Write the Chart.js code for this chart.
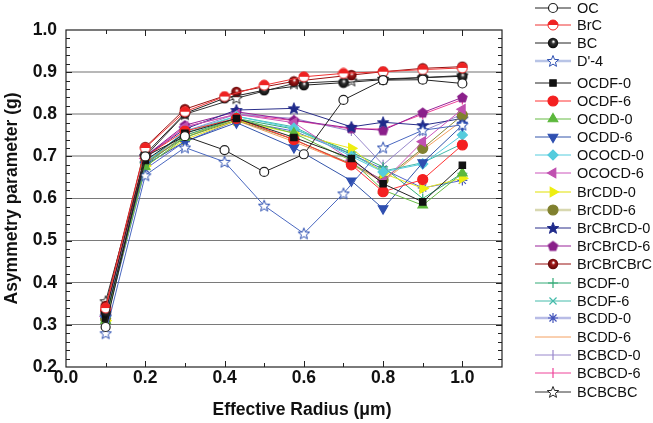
<!DOCTYPE html>
<html>
<head>
<meta charset="utf-8">
<script src="https://cdn.jsdelivr.net/npm/chart.js@4.4.1/dist/chart.umd.min.js"></script>
<style>
html, body { margin: 0; padding: 0; background: #fff; }
</style>
</head>
<body>
<canvas id="myChart" width="653" height="423"></canvas>
<script>
// x positions (effective radius, um)
const xFull = [0.1, 0.2, 0.3, 0.4, 0.5, 0.6, 0.7, 0.8, 0.9, 1.0];
const xMix = [0.1, 0.2, 0.3, 0.43, 0.575, 0.72, 0.8, 0.9, 1.0];

// series names, same order as the legend
const names = ['OC', 'BrC', 'BC', "D'-4", 'OCDF-0', 'OCDF-6', 'OCDD-0', 'OCDD-6',
  'OCOCD-0', 'OCOCD-6', 'BrCDD-0', 'BrCDD-6', 'BrCBrCD-0', 'BrCBrCD-6', 'BrCBrCBrC',
  'BCDF-0', 'BCDF-6', 'BCDD-0', 'BCDD-6', 'BCBCD-0', 'BCBCD-6', 'BCBCBC'];

// asymmetry parameter g
const gOC = [0.295, 0.700, 0.748, 0.715, 0.663, 0.705, 0.834, 0.881, 0.882, 0.873];
const gBrC = [0.340, 0.720, 0.806, 0.842, 0.869, 0.889, 0.897, 0.901, 0.906, 0.910];
const gBC = [0.330, 0.705, 0.802, 0.838, 0.857, 0.869, 0.875, 0.882, 0.887, 0.890];
const gD4 = [0.280, 0.655, 0.721, 0.687, 0.583, 0.517, 0.612, 0.721, 0.762, 0.775];
const gOCDF0 = [0.315, 0.690, 0.755, 0.790, 0.745, 0.695, 0.635, 0.592, 0.679];
const gOCDF6 = [0.335, 0.700, 0.760, 0.790, 0.740, 0.680, 0.616, 0.645, 0.727];
const gOCDD0 = [0.310, 0.675, 0.745, 0.790, 0.755, 0.690, 0.620, 0.584, 0.660];
const gOCDD6 = [0.315, 0.680, 0.735, 0.780, 0.721, 0.642, 0.576, 0.685, 0.774];
const gOCOCD0 = [0.320, 0.685, 0.760, 0.795, 0.767, 0.700, 0.663, 0.682, 0.751];
const gOCOCD6 = [0.320, 0.695, 0.770, 0.800, 0.780, 0.691, 0.640, 0.735, 0.812];
const gBrCDD0 = [0.310, 0.677, 0.740, 0.785, 0.755, 0.719, 0.660, 0.624, 0.648];
const gBrCDD6 = [0.315, 0.685, 0.745, 0.786, 0.740, 0.682, 0.644, 0.719, 0.798];
const gBrCBrCD0 = [0.320, 0.700, 0.765, 0.810, 0.814, 0.770, 0.781, 0.774, 0.790];
const gBrCBrCD6 = [0.325, 0.700, 0.774, 0.806, 0.786, 0.767, 0.762, 0.804, 0.840];
const gBrCBrCBrC = [0.345, 0.722, 0.812, 0.853, 0.878, 0.893, 0.901, 0.909, 0.913];
const gBCDF0 = [0.310, 0.680, 0.750, 0.790, 0.765, 0.710, 0.675, 0.600, 0.660];
const gBCDF6 = [0.315, 0.685, 0.755, 0.795, 0.770, 0.705, 0.665, 0.685, 0.730];
const gBCDD0 = [0.305, 0.670, 0.735, 0.785, 0.760, 0.705, 0.670, 0.625, 0.643];
const gBCDD6 = [0.315, 0.685, 0.750, 0.785, 0.735, 0.680, 0.640, 0.715, 0.785];
const gBCBCD0 = [0.310, 0.680, 0.760, 0.800, 0.790, 0.760, 0.680, 0.760, 0.800];
const gBCBCD6 = [0.325, 0.700, 0.770, 0.800, 0.785, 0.765, 0.765, 0.800, 0.835];
const gBCBCBC = [0.356, 0.700, 0.800, 0.838, 0.873, 0.880, 0.884, 0.887, 0.892];

const xTickValues = [0.0, 0.2, 0.4, 0.6, 0.8, 1.0];

// --- marker images for the symbols Chart.js has no shape for ---
function markerCanvas(size, draw) {
  const c = document.createElement('canvas');
  c.width = size; c.height = size;
  draw(c.getContext('2d'), size / 2);
  return c;
}
function sphere(col, dark) {
  return markerCanvas(12, (g, r) => {
    const gr = g.createRadialGradient(r + 0.5, r - 1.5, 0.3, r, r, r);
    gr.addColorStop(0, '#ffffff');
    gr.addColorStop(0.3, col);
    gr.addColorStop(1, dark);
    g.fillStyle = gr;
    g.beginPath(); g.arc(r, r, r - 0.8, 0, Math.PI * 2); g.fill();
  });
}
function halfCircle(col) {
  return markerCanvas(12, (g, r) => {
    g.fillStyle = '#fff';
    g.beginPath(); g.arc(r, r, r - 1, 0, Math.PI * 2); g.fill();
    g.fillStyle = col;
    g.beginPath(); g.arc(r, r, r - 1, Math.PI, Math.PI * 2); g.closePath(); g.fill();
    g.strokeStyle = col; g.lineWidth = 1;
    g.beginPath(); g.arc(r, r, r - 1, 0, Math.PI * 2); g.stroke();
  });
}
function polyPath(g, cx, cy, n, R, r2) {
  g.beginPath();
  const k = r2 ? n * 2 : n;
  for (let i = 0; i < k; i++) {
    const a = -Math.PI / 2 + i * Math.PI * 2 / k;
    const rr = r2 && i % 2 ? r2 : R;
    const px = cx + rr * Math.cos(a), py = cy + rr * Math.sin(a);
    if (i === 0) g.moveTo(px, py); else g.lineTo(px, py);
  }
  g.closePath();
}
function star(stroke, fill) {
  return markerCanvas(14, (g, r) => {
    polyPath(g, r, r + 0.5, 5, 6, 2.6);
    g.fillStyle = fill; g.fill();
    g.strokeStyle = stroke; g.lineWidth = 1; g.stroke();
  });
}
function pentagon(col) {
  return markerCanvas(13, (g, r) => {
    polyPath(g, r, r + 0.4, 5, 5.6);
    g.fillStyle = col; g.fill();
  });
}

const styles = [
  { line: '#222222', ps: 'circle', bg: '#ffffff', bd: '#222222', r: 4.5 },
  { line: '#ee3333', ps: halfCircle('#ee2222') },
  { line: '#222222', ps: sphere('#333333', '#000000') },
  { line: '#4a68c0', ps: star('#2a4db0', '#ffffff'), lg: '#b8c4e6', lw: 2.5 },
  { line: '#222222', ps: 'rect', bg: '#111111', bd: '#111111', r: 4.5 },
  { line: '#ff3333', ps: 'circle', bg: '#f42020', bd: '#f42020', r: 5 },
  { line: '#66bb44', ps: 'triangle', bg: '#5cb83c', bd: '#5cb83c', r: 5.5 },
  { line: '#3355aa', ps: 'triangle', rot: 180, bg: '#2f4fb0', bd: '#2f4fb0', r: 5.5 },
  { line: '#55ccdd', ps: 'rectRot', bg: '#55ccdd', bd: '#55ccdd', r: 5 },
  { line: '#cc55bb', ps: 'triangle', rot: -90, bg: '#c050b0', bd: '#c050b0', r: 5.5 },
  { line: '#e6e620', ps: 'triangle', rot: 90, bg: '#eeee11', bd: '#eeee11', r: 5.5, lg: '#f0f080', lw: 2 },
  { line: '#8a8a3a', ps: 'circle', bg: '#80802e', bd: '#80802e', r: 5, lg: '#d8d8b0', lw: 2.5 },
  { line: '#2a2f8a', ps: star('#1f2a8a', '#1f2a8a') },
  { line: '#992299', ps: pentagon('#8a1f8a') },
  { line: '#991111', ps: sphere('#a01818', '#500000') },
  { line: '#33aa77', ps: 'cross', bg: '#33aa77', bd: '#33aa77', r: 5 },
  { line: '#44bbaa', ps: 'crossRot', bg: '#44bbaa', bd: '#44bbaa', r: 5 },
  { line: '#5566cc', ps: 'star', bg: '#4455bb', bd: '#4455bb', r: 5, lg: '#b8bce6', lw: 2.5 },
  { line: '#f4a060', ps: 'circle', r: 0 },
  { line: '#9988cc', ps: 'line', rot: 90, bg: '#9988cc', bd: '#9988cc', r: 5 },
  { line: '#ee4499', ps: 'line', rot: 90, bg: '#ee4499', bd: '#ee4499', r: 5 },
  { line: '#333333', ps: star('#222222', '#ffffff') }
];

const ys = [gOC, gBrC, gBC, gD4, gOCDF0, gOCDF6, gOCDD0, gOCDD6, gOCOCD0, gOCOCD6,
  gBrCDD0, gBrCDD6, gBrCBrCD0, gBrCBrCD6, gBrCBrCBrC, gBCDF0, gBCDF6, gBCDD0, gBCDD6,
  gBCBCD0, gBCBCD6, gBCBCBC];

const datasets = names.map((name, i) => {
  const s = styles[i];
  const xs = ys[i].length === xFull.length ? xFull : xMix;
  return {
    label: name,
    data: xs.map((x, k) => ({ x: x, y: ys[i][k] })),
    showLine: true,
    borderColor: s.line,
    borderWidth: 1,
    pointStyle: s.ps,
    pointRadius: s.r === undefined ? 5 : s.r,
    pointRotation: s.rot || 0,
    pointBackgroundColor: s.bg || s.line,
    pointBorderColor: s.bd || s.line,
    pointBorderWidth: 1.2
  };
});

// legend rows (y in px)
const legendY = [8, 25, 43, 61, 83, 101, 119, 137, 155, 173, 192, 210, 228, 246, 264,
  283, 301, 318, 337, 355, 373, 392];

const frame = {
  id: 'frame',
  afterDraw(chart) {
    const ctx = chart.ctx, a = chart.chartArea;
    const sx = chart.scales.x, sy = chart.scales.y;
    ctx.save();
    ctx.strokeStyle = '#222'; ctx.lineWidth = 1.2;
    ctx.strokeRect(a.left, a.top, a.right - a.left, a.bottom - a.top);
    ctx.lineWidth = 1;
    ctx.beginPath();
    for (let i = 1; i <= 10; i++) {
      const px = Math.round(sx.getPixelForValue(i / 10)) + 0.5;
      const len = i % 2 === 0 ? 6 : 4;
      ctx.moveTo(px, a.bottom); ctx.lineTo(px, a.bottom - len);
      ctx.moveTo(px, a.top); ctx.lineTo(px, a.top + len);
    }
    for (let k = 1; k < 40; k++) {
      const py = Math.round(sy.getPixelForValue(0.2 + k * 0.02)) + 0.5;
      const len = k % 5 === 0 ? 6 : 4;
      ctx.moveTo(a.left, py); ctx.lineTo(a.left + len, py);
      ctx.moveTo(a.right, py); ctx.lineTo(a.right - len, py);
    }
    ctx.stroke();

    // axis titles
    ctx.fillStyle = '#111';
    ctx.font = 'bold 17.5px "Liberation Sans", Arial, sans-serif';
    ctx.textAlign = 'center'; ctx.textBaseline = 'middle';
    ctx.fillText('Effective Radius (\u03bcm)', 302, 410);
    ctx.save();
    ctx.translate(12, (a.top + a.bottom) / 2);
    ctx.rotate(-Math.PI / 2);
    ctx.fillText('Asymmetry parameter (g)', 0, 0);
    ctx.restore();

    // legend: line + symbol + name
    ctx.font = '14.5px "Liberation Sans", Arial, sans-serif';
    ctx.textAlign = 'left';
    chart.data.datasets.forEach((ds, i) => {
      const s = styles[i], y = legendY[i];
      ctx.strokeStyle = s.lg || ds.borderColor;
      ctx.lineWidth = s.lw || 1;
      ctx.beginPath(); ctx.moveTo(535, y); ctx.lineTo(571, y); ctx.stroke();
      if (ds.pointRadius > 0 || typeof ds.pointStyle !== 'string') {
        ctx.fillStyle = ds.pointBackgroundColor;
        ctx.strokeStyle = ds.pointBorderColor;
        ctx.lineWidth = 1.2;
        Chart.helpers.drawPoint(ctx, {
          pointStyle: ds.pointStyle, radius: ds.pointRadius,
          rotation: ds.pointRotation, borderWidth: 1.2
        }, 553, y);
      }
      ctx.fillStyle = '#111';
      ctx.fillText(ds.label, 577, y + 1);
    });
    ctx.restore();
  }
};

const config = {
  type: 'scatter',
  data: { datasets: datasets },
  options: {
    responsive: false,
    animation: false,
    events: [],
    layout: { padding: { top: 30, right: 151, left: 0, bottom: 0 } },
    plugins: { legend: { display: false }, tooltip: { enabled: false } },
    scales: {
      x: {
        type: 'linear', min: 0, max: 1.1,
        border: { display: false },
        grid: { display: false, drawTicks: false },
        afterFit: s => { s.height = 56; },
        afterBuildTicks: s => { s.ticks = xTickValues.map(v => ({ value: v })); },
        ticks: {
          padding: 1, color: '#111',
          font: { size: 17.5, weight: 'bold', family: '"Liberation Sans", Arial, sans-serif' },
          callback: v => Number(v).toFixed(1)
        }
      },
      y: {
        type: 'linear', min: 0.2, max: 1.0,
        border: { display: false },
        afterFit: s => { s.width = 66; },
        grid: {
          drawTicks: false,
          color: c => {
            const v = Math.round(c.tick.value * 10) / 10;
            if (v <= 0.2 || v >= 1.0) return 'rgba(0,0,0,0)';
            return v >= 0.7 ? '#b8b8b8' : '#7a7a7a';
          },
          lineWidth: c => (Math.round(c.tick.value * 10) / 10 >= 0.7 ? 2 : 1)
        },
        ticks: {
          stepSize: 0.1, padding: 9, color: '#111',
          font: { size: 17.5, weight: 'bold', family: '"Liberation Sans", Arial, sans-serif' },
          callback: v => Number(v).toFixed(1)
        }
      }
    }
  },
  plugins: [frame]
};

const myChart = new Chart(document.getElementById('myChart'), config);
</script>
</body>
</html>
